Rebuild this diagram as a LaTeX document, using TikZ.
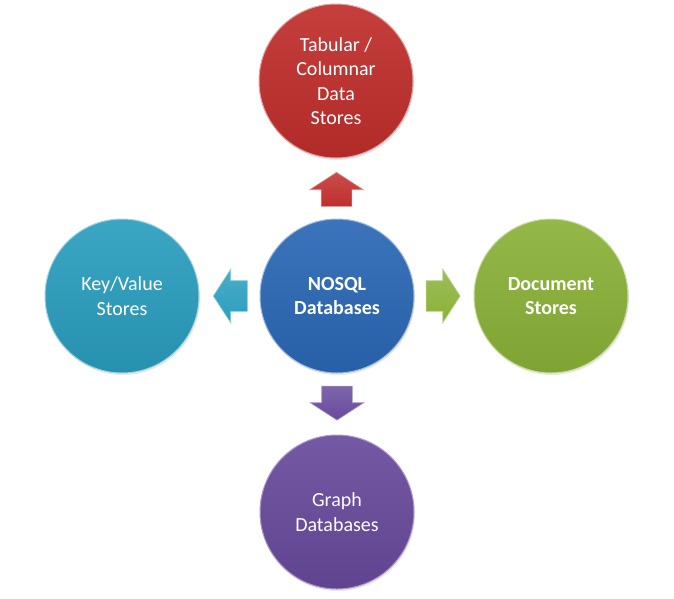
\documentclass[tikz,border=0pt]{standalone}
\usepackage{fontspec}
\setmainfont{Carlito}
\usetikzlibrary{shapes.arrows,shadows,calc}

\definecolor{tabred}{RGB}{192,46,44}
\definecolor{dbblue}{RGB}{42,104,180}
\definecolor{docgreen}{RGB}{138,178,56}
\definecolor{kvteal}{RGB}{42,158,190}
\definecolor{grpurple}{RGB}{104,74,156}

\tikzstyle{store}=[shape=circle,minimum size=154pt,inner sep=0pt,align=center,
    text=white,font=\fontsize{20}{24.5}\selectfont,line width=1pt,
    drop shadow={opacity=0.18,shadow xshift=1pt,shadow yshift=-2pt}]
\tikzstyle{link}=[single arrow,inner xsep=0pt,inner ysep=15pt,minimum height=34pt,
    single arrow head extend=11.5pt,single arrow tip angle=114,line width=0.6pt]

\begin{document}
\begin{tikzpicture}[x=1pt,y=-1pt]
        \useasboundingbox (0,0) rectangle (674,598);
        % stores
        \node[store,top color=dbblue!92!white,bottom color=dbblue!92!black,draw=dbblue!45!white,
            font=\fontsize{20}{24.5}\selectfont\bfseries] (nosql) at (337,296) {NOSQL\\Databases};
        \node[store,top color=tabred!92!white,bottom color=tabred!92!black,draw=tabred!45!white]
            (tab) at (336,81) {Tabular /\\Columnar\\Data\\Stores};
        \node[store,top color=kvteal!92!white,bottom color=kvteal!92!black,draw=kvteal!45!white]
            (kv) at (122,296) {Key/Value\\Stores};
        \node[store,top color=docgreen!92!white,bottom color=docgreen!92!black,draw=docgreen!45!white,
            font=\fontsize{20}{24.5}\selectfont\bfseries] (doc) at (551,296) {Document\\Stores};
        \node[store,top color=grpurple!92!white,bottom color=grpurple!92!black,draw=grpurple!55!white]
            (graph) at (337,512) {Graph\\Databases};
        % block arrows
        \node[link,rotate=90,top color=tabred!85!white,bottom color=tabred,draw=tabred!55!white]
            (up) at ($(tab)!0.527!(nosql)$) {};
        \node[link,rotate=180,top color=kvteal!85!white,bottom color=kvteal,draw=kvteal!55!white]
            (left) at ($(kv)!0.527!(nosql)$) {};
        \node[link,top color=docgreen!85!white,bottom color=docgreen,draw=docgreen!55!white]
            (right) at ($(doc)!0.527!(nosql)$) {};
        \node[link,rotate=-90,top color=grpurple!85!white,bottom color=grpurple,draw=grpurple!55!white]
            (down) at ($(graph)!0.527!(nosql)$) {};
    \end{tikzpicture}
\end{document}
